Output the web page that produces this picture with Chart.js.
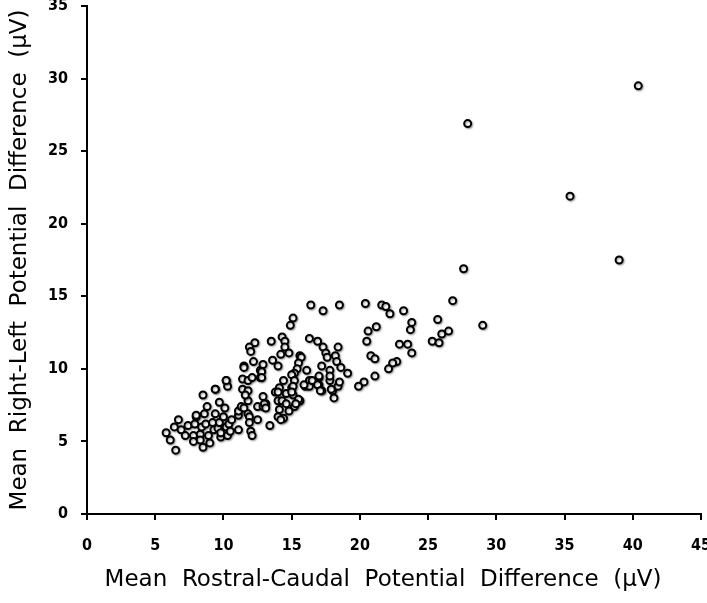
<!DOCTYPE html>
<html>
<head>
<meta charset="utf-8">
<script src="https://cdn.jsdelivr.net/npm/chart.js@4"></script>
<style>
  html, body { margin: 0; padding: 0; background: #fff; }
  #wrap { width: 707px; height: 603px; }
</style>
</head>
<body>
<div id="wrap"><canvas id="chart-scatter"></canvas></div>
<script>
// mean rostral-caudal difference (x) and right-left difference (y), in µV
const rostralCaudal = [
    5.8, 6.1, 6.5, 6.4, 6.7, 6.9, 7.2, 7.4, 7.8, 7.8,
    8.0, 7.9, 8.3, 8.3, 8.5, 8.4, 8.6, 8.7, 8.8, 8.5,
    8.9, 9.0, 9.2, 9.3, 9.4, 9.4, 9.6, 9.7, 9.7, 9.8,
    9.8, 10.0, 10.1, 10.2, 10.3, 10.2, 10.3, 10.4, 10.6, 10.5,
    11.1, 11.1, 11.1, 11.3, 11.5, 11.8, 11.8, 11.9, 11.9, 12.0,
    12.1, 12.5, 12.5, 12.9, 13.1, 13.4, 11.4, 11.8, 11.4, 11.8,
    11.6, 12.1, 12.7, 12.7, 11.5, 11.5, 12.2, 12.9, 12.3, 11.9,
    12.0, 13.6, 14.0, 12.8, 12.8, 14.4, 14.1, 13.8, 14.0, 14.6,
    15.0, 15.1, 14.0, 14.3, 14.6, 15.5, 15.2, 14.8, 14.1, 14.0,
    14.4, 14.2, 13.0, 13.1, 12.9, 15.6, 15.7, 15.5, 15.4, 15.2,
    15.0, 15.2, 16.1, 16.3, 16.0, 16.3, 15.6, 15.1, 15.0, 15.5,
    15.3, 16.5, 17.0, 15.9, 17.0, 17.2, 17.8, 18.0, 15.1, 14.9,
    14.3, 14.5, 14.5, 13.5, 14.2, 14.8, 16.3, 16.9, 17.3, 17.5,
    17.6, 18.4, 18.2, 18.3, 18.6, 19.1, 17.2, 17.8, 17.8, 17.0,
    16.9, 17.1, 17.9, 18.4, 18.5, 18.1, 16.4, 17.3, 18.5, 20.4,
    21.6, 21.9, 22.2, 23.2, 20.6, 21.2, 20.5, 20.8, 21.1, 21.1,
    20.3, 19.9, 22.9, 23.5, 23.8, 22.7, 22.4, 22.1, 23.8, 23.7,
    25.7, 25.3, 25.8, 26.0, 26.5, 26.8, 29.0, 27.6, 27.9, 35.4,
    39.0, 40.4, 8.0, 9.4, 10.2
];
const rightLeft = [
    5.6, 5.1, 4.4, 6.0, 6.5, 5.8, 5.4, 6.1, 5.4, 5.0,
    6.7, 6.2, 5.5, 5.1, 4.6, 6.0, 6.9, 6.2, 7.4, 8.2,
    5.4, 4.9, 6.3, 5.8, 6.9, 8.6, 5.9, 6.3, 7.7, 5.3,
    5.6, 6.7, 7.3, 6.0, 5.4, 9.2, 8.8, 6.2, 6.5, 5.7,
    6.8, 7.1, 5.8, 7.4, 7.3, 7.8, 6.9, 6.7, 6.3, 5.7,
    5.4, 6.5, 7.4, 7.4, 7.6, 6.1, 9.3, 9.2, 8.6, 8.5,
    8.2, 9.4, 9.9, 9.4, 10.2, 10.1, 10.5, 10.3, 11.8, 11.5,
    11.2, 10.6, 10.2, 9.8, 9.4, 9.2, 8.7, 8.4, 8.4, 8.3,
    8.7, 8.2, 7.8, 7.8, 7.6, 7.8, 7.4, 7.1, 7.2, 6.7,
    6.6, 6.5, 7.6, 7.3, 8.1, 10.9, 10.8, 10.4, 10.0, 9.7,
    9.6, 9.2, 9.9, 9.2, 8.8, 8.8, 7.8, 8.8, 8.4, 7.9,
    7.6, 9.2, 9.4, 8.9, 8.9, 8.5, 9.2, 8.5, 13.5, 13.0,
    12.2, 11.9, 11.5, 11.9, 11.0, 11.1, 12.1, 11.9, 11.5, 11.1,
    10.8, 11.5, 10.9, 10.5, 10.1, 9.7, 10.2, 9.9, 9.5, 9.5,
    8.9, 8.5, 8.6, 8.8, 9.1, 8.0, 14.4, 14.0, 14.4, 14.5,
    14.4, 14.3, 13.8, 14.0, 12.6, 12.9, 11.9, 10.9, 10.7, 9.5,
    9.1, 8.8, 11.7, 11.7, 11.1, 10.5, 10.4, 10.0, 13.2, 12.7,
    13.4, 11.9, 11.8, 12.4, 12.6, 14.7, 13.0, 16.9, 26.9, 21.9,
    17.5, 29.5, 6.8, 8.6, 9.2
];
const xTicks = [0, 5, 10, 15, 20, 25, 30, 35, 40, 45];
const yTicks = [0, 5, 10, 15, 20, 25, 30, 35];

const points = rostralCaudal.map((x, i) => ({ x: x, y: rightLeft[i] }));

// soft drop shadow under the markers, like the original
const markerShadow = {
    id: "markerShadow",
    beforeDatasetsDraw(chart) {
        const c = chart.ctx;
        c.save();
        c.shadowColor = "rgba(0, 0, 0, 0.35)";
        c.shadowBlur = 2;
        c.shadowOffsetX = 1;
        c.shadowOffsetY = 1;
    },
    afterDatasetsDraw(chart) {
        chart.ctx.restore();
    }
};

const tickFont = { family: "'DejaVu Sans Condensed', 'DejaVu Sans'", size: 16, weight: "bold" };
const titleFont = { family: "'DejaVu Sans'", size: 23 };

const ctx = document.getElementById("chart-scatter").getContext("2d");
new Chart(ctx, {
    type: "scatter",
    data: {
        datasets: [
            {
                label: "Potential difference",
                data: points,
                backgroundColor: "#ffffff",
                borderColor: "#000000",
                borderWidth: 2,
                pointRadius: 3.5,
            },
        ],
    },
    options: {
        responsive: true,
        maintainAspectRatio: false,
        animation: false,
        layout: { padding: { top: 4, right: 5, left: 0, bottom: 0 } },
        plugins: {
            legend: { display: false },
            tooltip: { enabled: false },
        },
        scales: {
            x: {
                type: "linear",
                min: 0,
                max: 45,
                afterBuildTicks: (scale) => { scale.ticks = xTicks.map((v) => ({ value: v })); },
                afterFit: (scale) => {
                    scale.height = 89;
                    scale.paddingLeft = 0;
                    scale.paddingRight = 0;
                },
                border: { color: "#000", width: 2 },
                grid: { drawOnChartArea: false, drawTicks: true, tickLength: 6, color: "#000", lineWidth: 2 },
                ticks: { color: "#000", padding: 16, maxRotation: 0, font: tickFont },
                title: {
                    display: true,
                    // trailing spaces nudge the title a bit left, as in the original
                    text: "Mean  Rostral-Caudal  Potential  Difference  (μV)   ",
                    color: "#000",
                    padding: { top: 4, bottom: 9 },
                    font: titleFont,
                },
            },
            y: {
                type: "linear",
                min: 0,
                max: 35,
                afterBuildTicks: (scale) => { scale.ticks = yTicks.map((v) => ({ value: v })); },
                afterFit: (scale) => {
                    scale.width = 87;
                    scale.paddingTop = 0;
                    scale.paddingBottom = 0;
                },
                border: { color: "#000", width: 2 },
                grid: { drawOnChartArea: false, drawTicks: true, tickLength: 6, color: "#000", lineWidth: 2 },
                ticks: { color: "#000", padding: 13, font: tickFont },
                title: {
                    display: true,
                    text: "Mean  Right-Left  Potential  Difference  (μV)",
                    color: "#000",
                    padding: { top: 6, bottom: 4 },
                    font: titleFont,
                },
            },
        },
    },
    plugins: [markerShadow],
});
</script>
</body>
</html>
